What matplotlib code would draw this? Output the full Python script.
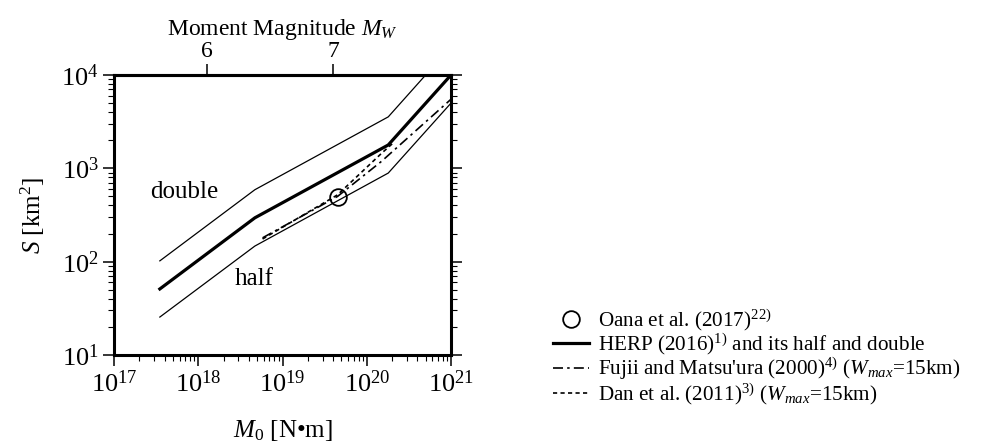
import numpy as np
import matplotlib
matplotlib.use("Agg")
import matplotlib.pyplot as plt
from matplotlib.ticker import LogLocator, NullLocator, FixedLocator

plt.rcParams['font.family'] = ['Liberation Serif', 'DejaVu Serif']
plt.rcParams['mathtext.fontset'] = 'custom'
plt.rcParams['mathtext.rm'] = 'Liberation Serif'
plt.rcParams['mathtext.it'] = 'Liberation Serif:italic'
plt.rcParams['mathtext.bf'] = 'Liberation Serif:bold'

# HERP (2016) recipe, read at the break points
herp_m0 = [3.5e17, 4.7e18, 1.8e20, 1e21]
herp_s = [51, 295, 1780, 10000]
half_s = [25.5, 147, 890, 5000]
double_m0 = [3.5e17, 4.7e18, 1.8e20, 5.0e20]
double_s = [102, 590, 3560, 10000]

# Fujii and Matsu'ura (2000), Wmax = 15 km
fujii_m0 = [5.8e18, 4.5e19, 1.5e20, 1e21]
fujii_s = [180, 500, 1190, 5500]

# Dan et al. (2011), Wmax = 15 km
dan_m0 = [5.8e18, 4.5e19, 1.5e20, 2.1e20]
dan_s = [175, 520, 1450, 1900]

# Oana et al. (2017)
oana_m0 = [4.5e19]
oana_s = [490]

fig = plt.figure(figsize=(9.81, 4.44), dpi=100)
ax = fig.add_axes([114/981, 89/444, 337/981, 280/444])

ax.plot(oana_m0, oana_s, 'o', ms=12, mfc='none', mec='black', mew=1.3,
        label=r'Oana et al. (2017)$^{22)}$', zorder=5)
ax.plot(herp_m0, herp_s, color='black', lw=2.3,
        label=r'HERP (2016)$^{1)}$ and its half and double')
ax.plot(herp_m0, half_s, color='black', lw=0.9)
ax.plot(double_m0, double_s, color='black', lw=0.9)
ax.plot(fujii_m0, fujii_s, color='black', lw=1.2, ls=(0, (6, 2.5, 1.5, 2.5)),
        label=r"Fujii and Matsu'ura (2000)$^{4)}$ ($W_{max}$=15km)")
ax.plot(dan_m0, dan_s, color='black', lw=1.2, ls=(0, (2.5, 2)),
        label=r'Dan et al. (2011)$^{3)}$ ($W_{max}$=15km)')

ax.set_xscale('log')
ax.set_yscale('log')
ax.set_xlim(1e17, 1e21)
ax.set_ylim(1e1, 1e4)

ax.xaxis.set_major_locator(FixedLocator([1e17, 1e18, 1e19, 1e20, 1e21]))
ax.yaxis.set_major_locator(FixedLocator([1e1, 1e2, 1e3, 1e4]))
ax.xaxis.set_minor_locator(LogLocator(base=10, subs=np.arange(2, 10)))
ax.yaxis.set_minor_locator(LogLocator(base=10, subs=np.arange(2, 10)))
ax.set_xticklabels([r'$10^{17}$', r'$10^{18}$', r'$10^{19}$', r'$10^{20}$', r'$10^{21}$'])
ax.set_yticklabels([r'$10^{1}$', r'$10^{2}$', r'$10^{3}$', r'$10^{4}$'])

ax.tick_params(which='major', direction='out', length=8, width=1.1,
               labelsize=19, right=True, top=False, pad=3)
ax.tick_params(which='minor', direction='out', length=4, width=0.8,
               right=True, top=False)
for sp in ax.spines.values():
    sp.set_linewidth(2.2)

ax.set_xlabel('$M_0$ [N\u2022m]', fontsize=18, labelpad=15)
ax.set_ylabel(r'$S$ [km$^2$]', fontsize=18, labelpad=10)

ax.text(6.9e17, 558, 'double', fontsize=18, ha='center', va='center')
ax.text(4.6e18, 65, 'half', fontsize=18, ha='center', va='center')

# top axis: moment magnitude
def m0_to_mw(x):
    return (np.log10(np.maximum(x, 1e-300)) - 9.1) / 1.5

def mw_to_m0(m):
    return 10 ** (1.5 * m + 9.1)

sec = ax.secondary_xaxis('top', functions=(m0_to_mw, mw_to_m0))
sec.set_xticks([6, 7])
sec.set_xticklabels(['6', '7'])
sec.xaxis.set_minor_locator(NullLocator())
sec.tick_params(direction='out', length=8, width=1.1, labelsize=17, pad=1)
sec.spines['top'].set_linewidth(2.2)
sec.set_xlabel(r'Moment Magnitude $M_W$', fontsize=17, labelpad=5)

ax.legend(loc='upper left', bbox_to_anchor=(553/981, 1 - 307/444),
          bbox_transform=fig.transFigure, frameon=False, fontsize=15.2,
          handlelength=1.7, handletextpad=0.45, labelspacing=-0.05,
          borderaxespad=0, borderpad=0)

fig.savefig('out.png', dpi=100)
